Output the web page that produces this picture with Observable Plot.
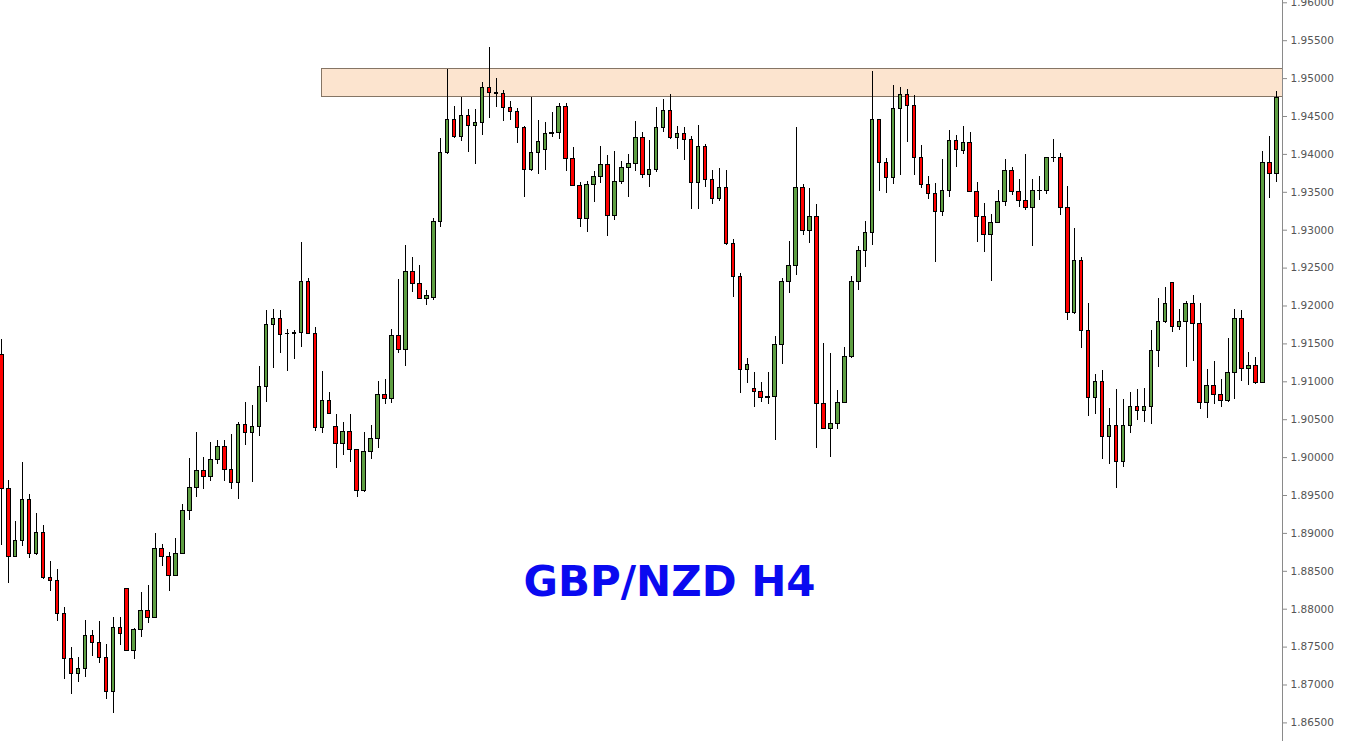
<!DOCTYPE html>
<html>
<head>
<meta charset="utf-8">
<script src="https://cdn.jsdelivr.net/npm/d3@7"></script>
<script src="https://cdn.jsdelivr.net/npm/@observablehq/plot@0.6"></script>
<style>
  html, body { margin: 0; padding: 0; background: #ffffff; }
  #chart { width: 1345px; height: 741px; overflow: hidden; }
</style>
</head>
<body>
<div id="chart"></div>
<script>
// ---- Data (GBP/NZD H4 candles) ----
const title = "GBP/NZD H4";

const open = [
1.91356,1.89588,1.88686,1.88902,1.89443,1.88731,1.89008,1.88414,1.88375,1.87939,
1.87345,1.87148,1.87214,1.87649,1.87557,1.87359,1.86914,1.87754,1.88269,1.87455,
1.87728,1.87979,1.87886,1.88797,1.88695,1.88441,1.88731,1.89298,1.89602,1.89826,
1.89744,1.89971,1.90142,1.89839,1.89667,1.90433,1.90327,1.90406,1.90934,1.91752,
1.91831,1.91633,1.91637,1.91646,1.92319,1.91633,1.90393,1.90749,1.90406,1.90182,
1.90340,1.90103,1.89562,1.90076,1.90248,1.90828,1.90776,1.91607,1.91422,1.92451,
1.92293,1.92095,1.92112,1.93111,1.94021,1.94457,1.94227,1.94509,1.94377,1.94417,
1.94879,1.94813,1.94800,1.94615,1.94562,1.94351,1.93788,1.94021,1.94061,1.94272,
1.94285,1.94628,1.93942,1.93586,1.93150,1.93599,1.93705,1.93863,1.93190,1.93639,
1.93823,1.93876,1.94219,1.93731,1.93797,1.94351,1.94575,1.94219,1.94272,1.94193,
1.93625,1.94100,1.93665,1.93414,1.93559,1.92821,1.92385,1.91158,1.90908,1.90868,
1.90802,1.90802,1.91488,1.92319,1.92530,1.93559,1.92992,1.93177,1.90710,1.90380,
1.90446,1.90723,1.91330,1.92310,1.92728,1.92966,1.94457,1.93889,1.93691,1.94602,
1.94786,1.94641,1.93955,1.93599,1.93480,1.93243,1.93520,1.94179,1.94048,1.94153,
1.93507,1.93177,1.92939,1.93098,1.93375,1.93784,1.93507,1.93388,1.93296,1.93516,
1.93520,1.93955,1.93955,1.93296,1.91910,1.92596,1.91673,1.90789,1.91000,1.90274,
1.90419,1.89945,1.90419,1.90670,1.90617,1.90670,1.91409,1.91792,1.92297,1.91726,
1.91792,1.92029,1.91765,1.90723,1.90947,1.90832,1.90749,1.91119,1.91831,1.91171,
1.91202,1.90987,1.93889,1.93744
];

const high = [
1.91558,1.89698,1.89157,1.89935,1.89513,1.89262,1.89104,1.88629,1.88524,1.88022,
1.87495,1.87363,1.87851,1.87719,1.87838,1.87534,1.87890,1.87890,1.88269,1.87741,
1.88216,1.88313,1.88995,1.88853,1.88744,1.88933,1.89381,1.89984,1.90327,1.90001,
1.90199,1.90226,1.90226,1.90305,1.90467,1.90723,1.90687,1.91202,1.91941,1.91950,
1.91941,1.91690,1.91677,1.92834,1.92359,1.91712,1.91136,1.90855,1.90569,1.90463,
1.90569,1.90103,1.90331,1.90419,1.91004,1.91030,1.91690,1.92350,1.92798,1.92640,
1.92534,1.92204,1.93150,1.94210,1.95120,1.94632,1.94747,1.94588,1.94592,1.94945,
1.95410,1.95001,1.94839,1.94694,1.94602,1.94364,1.94747,1.94443,1.94417,1.94549,
1.94668,1.94672,1.94087,1.93625,1.93639,1.93770,1.94100,1.93982,1.94038,1.93902,
1.93995,1.94434,1.94285,1.94179,1.94619,1.94724,1.94790,1.94368,1.94355,1.94232,
1.94381,1.94127,1.93788,1.93810,1.93788,1.92873,1.92425,1.91307,1.91119,1.90987,
1.91119,1.91594,1.92359,1.92851,1.94355,1.93599,1.93546,1.93335,1.91509,1.91369,
1.90881,1.91449,1.92389,1.92785,1.93115,1.95090,1.94457,1.93942,1.94909,1.94879,
1.94856,1.94773,1.94113,1.93705,1.93612,1.93937,1.94315,1.94249,1.94368,1.94289,
1.93625,1.93348,1.93203,1.93520,1.93929,1.93823,1.93665,1.94003,1.93665,1.93705,
1.93955,1.94197,1.94008,1.93577,1.93022,1.92640,1.92033,1.91092,1.91153,1.90652,
1.90898,1.90770,1.90855,1.90898,1.90916,1.91681,1.92095,1.92244,1.92314,1.91950,
1.92059,1.92135,1.92033,1.91158,1.91268,1.91030,1.91571,1.91954,1.91941,1.91387,
1.91321,1.94038,1.94236,1.94830
];

const low = [
1.88840,1.88343,1.88686,1.88831,1.88673,1.88708,1.88396,1.88237,1.87842,1.87076,
1.86878,1.87037,1.87103,1.87376,1.87287,1.86813,1.86620,1.87517,1.87455,1.87340,
1.87630,1.87807,1.87886,1.88567,1.88237,1.88441,1.88731,1.89166,1.89477,1.89583,
1.89689,1.89905,1.89689,1.89583,1.89443,1.90156,1.89675,1.90282,1.90731,1.91179,
1.91377,1.91140,1.91290,1.91456,1.91633,1.90340,1.90322,1.90578,1.89860,1.90032,
1.89939,1.89477,1.89543,1.89979,1.90120,1.90704,1.90718,1.91377,1.91206,1.92174,
1.92095,1.92007,1.92073,1.93040,1.93995,1.94214,1.94174,1.94029,1.93871,1.94253,
1.94478,1.94623,1.94438,1.94451,1.94140,1.93427,1.93778,1.93739,1.93784,1.94219,
1.94193,1.93770,1.93586,1.93032,1.92974,1.93362,1.93620,1.92913,1.93124,1.93599,
1.93427,1.93778,1.93686,1.93567,1.93757,1.94293,1.94193,1.94069,1.93924,1.93277,
1.93277,1.93567,1.93343,1.93383,1.92802,1.92116,1.90842,1.90981,1.90665,1.90731,
1.90704,1.90229,1.91224,1.92161,1.92398,1.92926,1.92821,1.90116,1.90367,1.90005,
1.90367,1.90723,1.91307,1.92204,1.92512,1.92794,1.93515,1.93480,1.93607,1.93726,
1.94161,1.93726,1.93546,1.93401,1.92578,1.93185,1.93427,1.93831,1.94003,1.93507,
1.92842,1.92710,1.92327,1.93084,1.93309,1.93454,1.93296,1.93256,1.92781,1.93388,
1.93467,1.93893,1.93198,1.91813,1.91892,1.91443,1.90538,1.90565,1.89971,1.89905,
1.89596,1.89873,1.90314,1.90485,1.90463,1.90433,1.91193,1.91773,1.91654,1.91681,
1.91185,1.91272,1.90638,1.90520,1.90697,1.90665,1.90731,1.90770,1.91008,1.90947,
1.90964,1.90987,1.93414,1.93633
];

const close = [
1.89588,1.88686,1.88902,1.89443,1.88731,1.89008,1.88414,1.88375,1.87939,1.87345,
1.87148,1.87214,1.87649,1.87557,1.87359,1.86910,1.87754,1.87675,1.87455,1.87728,
1.87979,1.87886,1.88797,1.88695,1.88441,1.88731,1.89298,1.89602,1.89826,1.89747,
1.89971,1.90142,1.89839,1.89667,1.90433,1.90331,1.90406,1.90934,1.91752,1.91831,
1.91620,1.91624,1.91641,1.92319,1.91633,1.90393,1.90749,1.90578,1.90182,1.90340,
1.90103,1.89562,1.90076,1.90248,1.90828,1.90776,1.91607,1.91422,1.92451,1.92293,
1.92095,1.92132,1.93111,1.94021,1.94457,1.94227,1.94509,1.94377,1.94417,1.94879,
1.94813,1.94800,1.94615,1.94562,1.94351,1.93797,1.94021,1.94166,1.94272,1.94285,
1.94628,1.93942,1.93586,1.93150,1.93599,1.93705,1.93863,1.93190,1.93639,1.93823,
1.93876,1.94219,1.93731,1.93797,1.94351,1.94575,1.94219,1.94272,1.94193,1.93625,
1.94100,1.93665,1.93414,1.93559,1.92821,1.92385,1.91158,1.91224,1.90868,1.90789,
1.90789,1.91488,1.92319,1.92530,1.93559,1.92992,1.93177,1.90710,1.90380,1.90446,
1.90723,1.91330,1.92310,1.92728,1.92966,1.94457,1.93889,1.93691,1.94602,1.94786,
1.94641,1.93955,1.93599,1.93480,1.93243,1.93520,1.94179,1.94061,1.94153,1.93507,
1.93177,1.92939,1.93098,1.93375,1.93784,1.93507,1.93388,1.93296,1.93520,1.93520,
1.93955,1.93953,1.93296,1.91910,1.92596,1.91673,1.90789,1.91000,1.90274,1.90419,
1.89945,1.90419,1.90670,1.90617,1.90670,1.91409,1.91792,1.92029,1.91726,1.91792,
1.92029,1.91760,1.90723,1.90947,1.90832,1.90749,1.91119,1.91831,1.91175,1.91202,
1.90987,1.93889,1.93744,1.94747
];

// Resistance zone (price band) and the candle where it starts
const zoneHigh = 1.95129;
const zoneLow = 1.94751;
const zoneStart = 46;

// Price axis tick labels
const yTicks = [1.865,1.870,1.875,1.880,1.885,1.890,1.895,1.900,1.905,1.910,
                1.915,1.920,1.925,1.930,1.935,1.940,1.945,1.950,1.955,1.960];

// ---- Build & render ----
const candles = open.map((o, i) => ({i, open: o, high: high[i], low: low[i], close: close[i]}));
const xDomain = [-0.19, 183.82];
const yDomain = [1.862546, 1.960303];
const green = "#5e9e42";
const red = "#ff0000";
const half = 0.25;

const chart = Plot.plot({
  width: 1345,
  height: 741,
  marginLeft: 0,
  marginRight: 63,
  marginTop: 0,
  marginBottom: 0,
  style: {background: "#ffffff", overflow: "hidden"},
  x: {type: "linear", domain: xDomain, axis: null},
  y: {type: "linear", domain: yDomain, axis: null},
  marks: [
    Plot.rect([{x1: zoneStart, x2: xDomain[1], y1: zoneLow, y2: zoneHigh}], {
      x1: "x1", x2: "x2", y1: "y1", y2: "y2",
      fill: "#fce4cf", stroke: "#857565", strokeWidth: 1, shapeRendering: "crispEdges"
    }),
    Plot.ruleX(candles, {x: "i", y1: "low", y2: "high", stroke: "#000000", strokeWidth: 1, shapeRendering: "crispEdges"}),
    Plot.rect(candles, {
      x1: d => d.i - half, x2: d => d.i + half,
      y1: "open", y2: "close",
      fill: d => d.close >= d.open ? green : red,
      stroke: "#000000", strokeWidth: 1, shapeRendering: "crispEdges"
    }),
    Plot.ruleX([xDomain[1]], {stroke: "#8a8a8a", strokeWidth: 1, shapeRendering: "crispEdges"}),
    Plot.axisY(yTicks, {
      anchor: "right",
      tickSize: 4,
      tickPadding: 4,
      tickFormat: d => d.toFixed(5),
      stroke: "#8a8a8a",
      fill: "#555555",
      fontSize: 10.5,
      fontFamily: "DejaVu Sans"
    }),
    Plot.text([title], {
      frameAnchor: "middle",
      dx: 28,
      dy: 212,
      fill: "#0a0af0",
      fontSize: 42,
      fontWeight: "bold",
      fontFamily: "DejaVu Sans"
    })
  ]
});
document.getElementById("chart").appendChild(chart);
</script>
</body>
</html>
